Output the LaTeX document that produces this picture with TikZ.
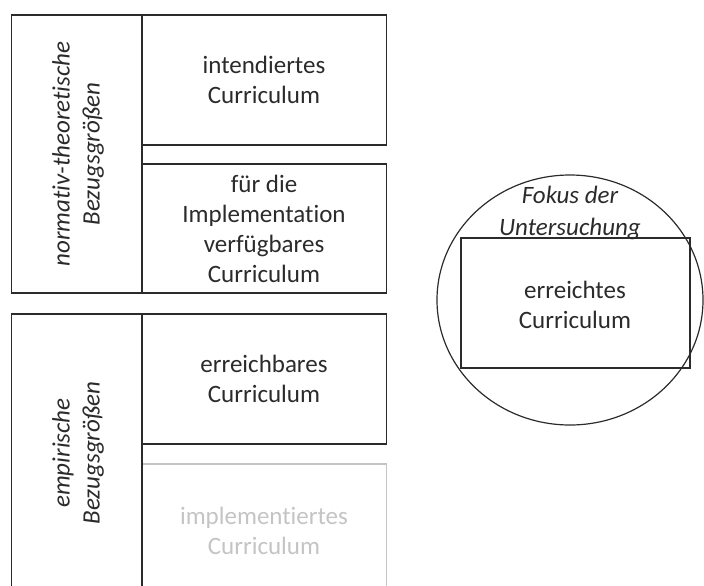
\documentclass[tikz,border=0pt]{standalone}
\usepackage{fontspec}
\setmainfont{Carlito}[Ligatures=CommonOff]
\usepackage{xcolor}
\usepackage{tikz}
\definecolor{inkgray}{HTML}{2B2B2B}
\definecolor{fadegray}{HTML}{C4C4C4}
\tikzset{
  lbl/.style={align=center, inner sep=0.75pt, text=inkgray, font=\fontsize{18.75}{22.5}\selectfont},
  sidelbl/.style={lbl, rotate=90, font=\fontsize{18.75}{22.5}\selectfont\itshape},
  frame/.style={draw=inkgray, line width=1.3pt}
}

\begin{document}
\begin{tikzpicture}[x=0.75pt,y=0.75pt,yscale=-1,xscale=1]
\useasboundingbox (0,0) rectangle (704,586);
\clip (0,0) rectangle (704,586);

%Shape: Rectangle [normativ column]
\draw[frame] (11.5,15) rectangle (142,293);
%Shape: Rectangle [intendiert]
\draw[frame] (142,15) rectangle (386.5,145);
%Shape: Rectangle [verfuegbar]
\draw[frame] (142,164) rectangle (386.5,293);

%Shape: Rectangle [implementiert, faded]
\draw[fadegray, line width=1.3pt] (142,464) rectangle (386.5,593);
%Shape: Rectangle [empirisch column]
\draw[frame] (11.5,314) rectangle (142,593);
%Shape: Rectangle [erreichbar]
\draw[frame] (142,314) rectangle (386.5,444);

%Shape: Ellipse [Fokus]
\draw[inkgray, line width=0.9pt] (570,300) ellipse (133 and 125);
%Shape: Rectangle [erreicht]
\draw[frame] (461,238) rectangle (690,368);

% Text Node
\node[sidelbl] (normativ) at (78,154) {normativ-theoretische\\Bezugsgrößen};
% Text Node
\node[sidelbl] (empirisch) at (78,453) {empirische\\Bezugsgrößen};
% Text Node
\node[lbl] (intendiert) at (264,80) {intendiertes\\Curriculum};
% Text Node
\node[lbl] (verfuegbar) at (264,229) {für die\\Implementation\\verfügbares\\Curriculum};
% Text Node
\node[lbl] (erreichbar) at (264,379) {erreichbares\\Curriculum};
% Text Node
\node[lbl, text=fadegray] (implementiert) at (264,531) {implementiertes\\Curriculum};
% Text Node
\node[lbl, font=\fontsize{18.75}{24}\selectfont\itshape] (fokus) at (570,213) {Fokus der\\Untersuchung};
% Text Node
\node[lbl] (erreicht) at (575,305) {erreichtes\\Curriculum};
\end{tikzpicture}
\end{document}
